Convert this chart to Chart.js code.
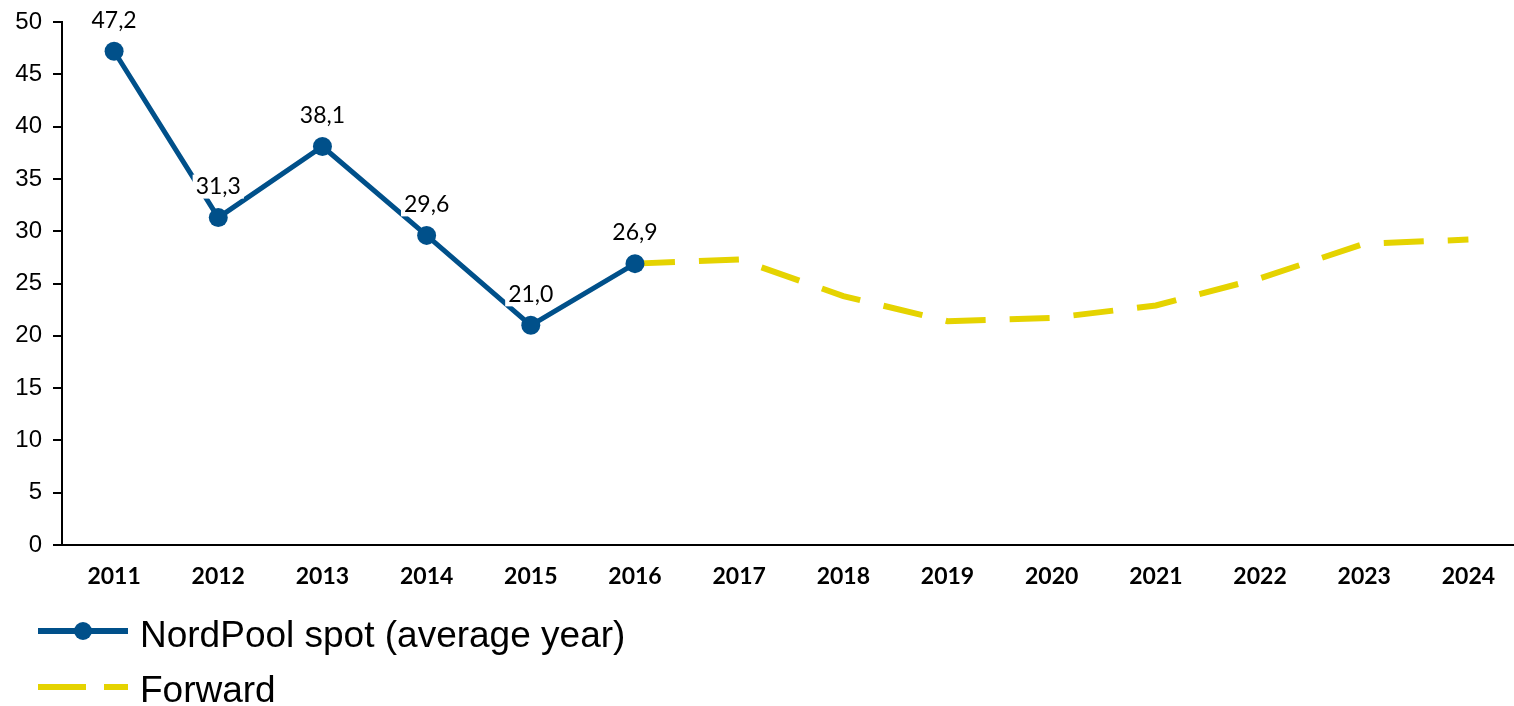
<!DOCTYPE html>
<html>
<head>
<meta charset="utf-8">
<script src="https://cdn.jsdelivr.net/npm/chart.js@4"></script>
<style>
    html, body { margin: 0; padding: 0; background: #fff; overflow: hidden; }
    #wrap { position: relative; width: 1530px; height: 706px; }
</style>
</head>
<body>
<div id="wrap"><canvas id="priceChart"></canvas></div>
<script>
const years = ['2011', '2012', '2013', '2014', '2015', '2016', '2017', '2018', '2019', '2020', '2021', '2022', '2023', '2024'];
const spotValues = [47.2, 31.3, 38.1, 29.6, 21.0, 26.9, null, null, null, null, null, null, null, null];
const forwardValues = [null, null, null, null, null, 26.9, 27.3, 23.8, 21.4, 21.7, 22.9, 25.5, 28.8, 29.2];
const seriesNames = ['NordPool spot (average year)', 'Forward'];

const BLUE = '#00508A';
const YELLOW = '#E5D300';

// etiquetas de valor encima de cada punto (con fondo blanco)
const valueLabels = {
    id: 'valueLabels',
    afterDatasetsDraw(chart) {
        const ctx = chart.ctx;
        const meta = chart.getDatasetMeta(0);
        ctx.save();
        ctx.font = '23px Lato';
        ctx.textAlign = 'center';
        ctx.textBaseline = 'middle';
        meta.data.forEach((pt, i) => {
            const v = spotValues[i];
            if (v === null) return;
            const txt = v.toFixed(1).replace('.', ',');
            const w = ctx.measureText(txt).width;
            const cy = pt.y - 31;
            ctx.fillStyle = '#fff';
            ctx.fillRect(pt.x - w / 2 - 3, cy - 12, w + 6, 24);
            ctx.fillStyle = '#000';
            ctx.fillText(txt, pt.x, cy);
        });
        ctx.restore();
    }
};

// leyenda dibujada abajo a la izquierda
const bottomLegend = {
    id: 'bottomLegend',
    afterDraw(chart) {
        const ctx = chart.ctx;
        ctx.save();
        // fila 1: spot
        ctx.strokeStyle = BLUE;
        ctx.lineWidth = 6;
        ctx.beginPath();
        ctx.moveTo(38, 631);
        ctx.lineTo(128, 631);
        ctx.stroke();
        ctx.fillStyle = BLUE;
        ctx.beginPath();
        ctx.arc(83, 631, 9, 0, Math.PI * 2);
        ctx.fill();
        // fila 2: forward
        ctx.strokeStyle = YELLOW;
        ctx.setLineDash([48, 18]);
        ctx.beginPath();
        ctx.moveTo(38, 687);
        ctx.lineTo(128, 687);
        ctx.stroke();
        ctx.setLineDash([]);

        ctx.fillStyle = '#000';
        ctx.font = '37px "Liberation Sans"';
        ctx.textAlign = 'left';
        ctx.textBaseline = 'alphabetic';
        ctx.fillText(seriesNames[0], 140, 647);
        ctx.fillText(seriesNames[1], 140, 702);
        ctx.restore();
    }
};

const ctx = document.getElementById('priceChart').getContext('2d');
new Chart(ctx, {
    type: 'line',
    data: {
        labels: years,
        datasets: [
            {
                label: seriesNames[0],
                data: spotValues,
                borderColor: BLUE,
                backgroundColor: BLUE,
                borderWidth: 5,
                pointRadius: 9.5,
                pointHoverRadius: 9.5,
                pointBackgroundColor: BLUE,
                pointBorderWidth: 0,
                tension: 0,
                clip: false
            },
            {
                label: seriesNames[1],
                data: forwardValues,
                borderColor: YELLOW,
                borderWidth: 6,
                borderDash: [40, 24],
                pointRadius: 0,
                tension: 0,
                clip: false
            }
        ]
    },
    options: {
        responsive: true,
        maintainAspectRatio: false,
        animation: false,
        layout: { padding: { top: 22, right: 1, left: 0, bottom: 0 } },
        plugins: {
            legend: { display: false },
            tooltip: { enabled: false }
        },
        scales: {
            x: {
                offset: true,
                grid: { display: false, drawTicks: false },
                border: { display: true, color: '#000', width: 2 },
                ticks: {
                    color: '#000',
                    font: { family: 'Lato', size: 23, weight: 'bold' },
                    padding: 18,
                    maxRotation: 0,
                    autoSkip: false
                },
                afterFit(scale) {
                    scale.height = 161;
                    scale.paddingLeft = 0;
                    scale.paddingRight = 0;
                }
            },
            y: {
                min: 0,
                max: 50,
                ticks: {
                    stepSize: 5,
                    color: '#000',
                    font: { family: 'Liberation Sans', size: 24 },
                    padding: 11
                },
                grid: {
                    drawOnChartArea: false,
                    drawTicks: true,
                    tickLength: 9,
                    color: '#000',
                    lineWidth: 2
                },
                border: { display: true, color: '#000', width: 2 },
                afterFit(scale) {
                    scale.width = 62;
                    scale.paddingTop = 0;
                    scale.paddingBottom = 0;
                }
            }
        }
    },
    plugins: [valueLabels, bottomLegend]
});
</script>
</body>
</html>
